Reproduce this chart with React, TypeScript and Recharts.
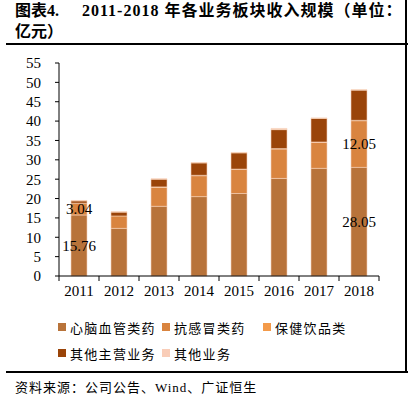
import React from "react";
import { BarChart, Bar, XAxis, YAxis, LabelList } from "recharts";

const years = ["2011", "2012", "2013", "2014", "2015", "2016", "2017", "2018"];
const cardio = [15.76, 12.3, 18.0, 20.5, 21.3, 25.2, 27.8, 28.05];
const antiCold = [3.04, 3.2, 4.9, 5.4, 6.2, 7.6, 6.7, 12.05];
const healthDrink = [0, 0, 0.1, 0.1, 0.1, 0.1, 0.1, 0.1];
const otherMain = [0.6, 1.0, 2.0, 3.2, 4.2, 4.9, 6.1, 7.8];
const otherBiz = [0.1, 0.1, 0.1, 0.1, 0.1, 0.3, 0.1, 0.1];
const cardioLabels = ["15.76", "", "", "", "", "", "", "28.05"];
const antiColdLabels = ["3.04", "", "", "", "", "", "", "12.05"];
const yTicks = [0, 5, 10, 15, 20, 25, 30, 35, 40, 45, 50, 55];

const seriesNames = ["心脑血管类药", "抗感冒类药", "保健饮品类", "其他主营业务", "其他业务"];
const seriesColors = ["#B8733A", "#D9843F", "#F39A4A", "#9A4409", "#F9CDB8"];

const data = years.map((y, i) => ({
  year: y,
  cardio: cardio[i],
  antiCold: antiCold[i],
  healthDrink: healthDrink[i],
  otherMain: otherMain[i],
  otherBiz: otherBiz[i],
  cardioLabel: cardioLabels[i],
  antiColdLabel: antiColdLabels[i],
}));

const serif = "'Liberation Serif', 'Noto Sans CJK SC', serif";
const cjk = "'Liberation Serif', 'Noto Sans CJK SC', sans-serif";

const YearTick = (props: any) => {
  const { x, y, payload, index } = props;
  const half = 20;
  const top = y - 8;
  return (
    <g>
      <line x1={x - half} x2={x - half} y1={top} y2={top + 5} stroke="#000" />
      {index === years.length - 1 && (
        <line x1={x + half} x2={x + half} y1={top} y2={top + 5} stroke="#000" />
      )}
      <text x={x} y={y + 12} textAnchor="middle" fontSize={15} fontFamily={serif} fill="#000">
        {payload.value}
      </text>
    </g>
  );
};

const keys = ["cardio", "antiCold", "healthDrink", "otherMain", "otherBiz"];

export default function App() {
  return (
    <div style={{ position: "absolute", left: 0, top: 0, width: 408, height: 399, background: "#fff" }}>
      <div style={{ position: "absolute", left: 15, top: 0, fontFamily: cjk, fontWeight: "bold", fontSize: 16, lineHeight: "22px" }}>
        图表4.
      </div>
      <div style={{ position: "absolute", left: 82, top: 0, fontFamily: cjk, fontWeight: "bold", fontSize: 16, lineHeight: "22px", whiteSpace: "nowrap", letterSpacing: 1 }}>
        2011-2018 年各业务板块收入规模（单位：
      </div>
      <div style={{ position: "absolute", left: 15, top: 21, fontFamily: cjk, fontWeight: "bold", fontSize: 16, lineHeight: "22px" }}>
        亿元）
      </div>
      <div style={{ position: "absolute", left: 6, top: 43, width: 402, height: 2, background: "#000" }} />
      <div style={{ position: "absolute", left: 405, top: 0, width: 1.5, height: 373, background: "#000" }} />
      <div style={{ position: "absolute", left: 6, top: 371, width: 402, height: 2, background: "#000" }} />

      <div style={{ position: "absolute", left: 0, top: 0 }}>
        <BarChart
          width={408}
          height={399}
          data={data}
          margin={{ top: 63, right: 29, left: 9, bottom: 93 }}
          barSize={16}
        >
          <YAxis
            domain={[0, 55]}
            ticks={yTicks}
            interval={0}
            width={50}
            tickSize={4}
            tickMargin={14}
            axisLine={{ stroke: "#000" }}
            tickLine={{ stroke: "#000" }}
            tick={{ fill: "#000", fontSize: 15, fontFamily: serif }}
          />
          <XAxis
            dataKey="year"
            height={30}
            axisLine={{ stroke: "#000" }}
            tickLine={false}
            interval={0}
            tick={<YearTick />}
          />
          {keys.map((k, i) => (
            <Bar
              key={k}
              dataKey={k}
              name={seriesNames[i]}
              stackId="a"
              fill={seriesColors[i]}
              stroke="#F6D2B8"
              strokeWidth={0.6}
              isAnimationActive={false}
            >
              {k === "cardio" && (
                <LabelList dataKey="cardioLabel" position="center" fill="#000" fontSize={15} fontFamily={serif} />
              )}
              {k === "antiCold" && (
                <LabelList dataKey="antiColdLabel" position="center" fill="#000" fontSize={15} fontFamily={serif} />
              )}
            </Bar>
          ))}
        </BarChart>
      </div>

      {seriesNames.map((n, i) => {
        const col = [58, 162, 263, 58, 162][i];
        const row = i < 3 ? 327 : 353;
        return (
          <div key={n} style={{ position: "absolute", left: col, top: row - 10, height: 20, display: "flex", alignItems: "center", whiteSpace: "nowrap" }}>
            <div style={{ width: 8, height: 8, background: seriesColors[i], marginRight: 4 }} />
            <span style={{ fontFamily: cjk, fontSize: 13, letterSpacing: 1.3, color: "#000" }}>{n}</span>
          </div>
        );
      })}

      <div style={{ position: "absolute", left: 15, top: 379, fontFamily: cjk, fontSize: 13, lineHeight: "18px", letterSpacing: 1, whiteSpace: "nowrap" }}>
        资料来源：公司公告、Wind、广证恒生
      </div>
    </div>
  );
}
